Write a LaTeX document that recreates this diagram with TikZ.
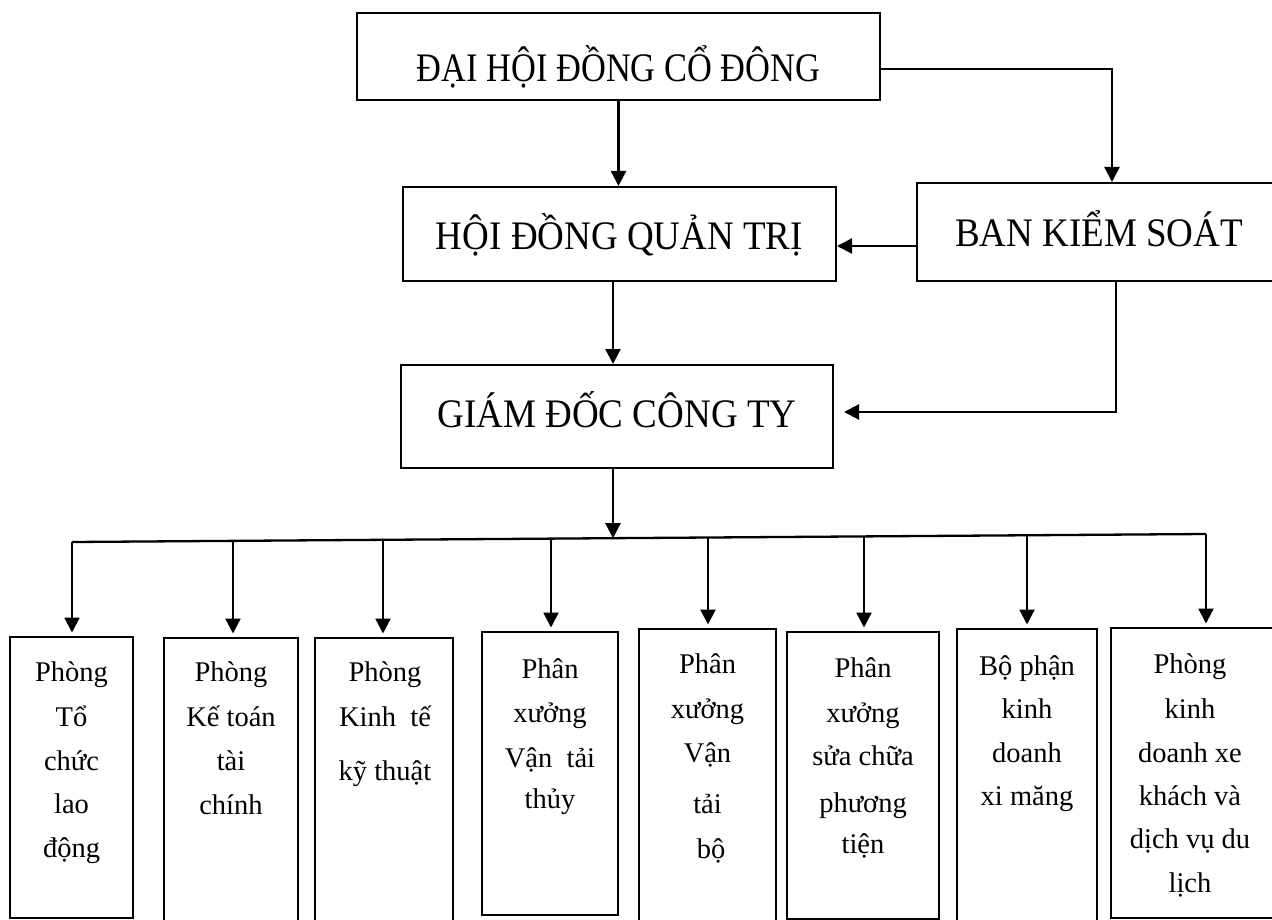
\documentclass[tikz,border=0pt]{standalone}
\usepackage{fontspec}
\setmainfont{Liberation Serif}
\usetikzlibrary{arrows.meta,calc}
% narrow setting used for the titles of the governing bodies
\newcommand{\hdtxt}[2][0.914]{\scalebox{#1}[1]{#2}}
\begin{document}
\begin{tikzpicture}[x=1pt,y=-1pt,
  headbox/.style={draw, line width=2pt, inner sep=0pt, text depth=0pt,
    font=\fontsize{40.5}{48}\selectfont},
  unitbox/.style={draw, line width=2pt, inner sep=0pt},
  cell/.style={anchor=base, inner sep=0pt, font=\fontsize{28.5}{34}\selectfont},
  link/.style={line width=2.3pt, -{Triangle[length=15pt,width=15pt]}},
  busline/.style={line width=2.3pt, line join=miter}]
\useasboundingbox (0,0) rectangle (1272,920);

% top levels
\node[headbox, minimum width=523, minimum height=87, text height=51pt] (dhcd) at (618.5,56.5)
  {\hdtxt[0.85]{ĐẠI HỘI ĐỒNG CỔ ĐÔNG}};
\node[headbox, minimum width=433, minimum height=94, text height=32pt] (hdqt) at (619.5,234)
  {\hdtxt{HỘI ĐỒNG QUẢN TRỊ}};
\node[headbox, minimum width=364, minimum height=98, text height=30pt] (bks) at (1099,232)
  {\hdtxt{BAN KIỂM SOÁT}};
\node[headbox, minimum width=432, minimum height=103, text height=21pt] (gd) at (617,416.5)
  {\hdtxt{GIÁM ĐỐC CÔNG TY}};

% departments
\node[unitbox, minimum width=123, minimum height=281] (b1) at (71.5,777.5) {};
\node[unitbox, minimum width=134, minimum height=284] (b2) at (231,780) {};
\node[unitbox, minimum width=138, minimum height=284] (b3) at (384,780) {};
\node[unitbox, minimum width=136, minimum height=283] (b4) at (550,773.5) {};
\node[unitbox, minimum width=137, minimum height=293] (b5) at (707.5,775.5) {};
\node[unitbox, minimum width=152, minimum height=287] (b6) at (863,775.5) {};
\node[unitbox, minimum width=140, minimum height=293] (b7) at (1027,775.5) {};
\node[unitbox, minimum width=164, minimum height=290] (b8) at (1193,773) {};

\foreach \t/\y [count=\i] in {Phòng/681, Tổ/726, chức/770, lao/813, động/857}
  \node[cell] (t1-\i) at (71.5,\y) {\t};
\foreach \t/\y [count=\i] in {Phòng/681, Kế toán/726, tài/770, chính/814}
  \node[cell] (t2-\i) at (231,\y) {\t};
\foreach \t/\y [count=\i] in {Phòng/681, Kinh\ \ tế/726, kỹ thuật/780}
  \node[cell] (t3-\i) at (385,\y) {\t};
\foreach \t/\y [count=\i] in {Phân/678, xưởng/722, Vận\ \ tải/767, thủy/808}
  \node[cell] (t4-\i) at (550,\y) {\t};
\foreach \t/\y [count=\i] in {Phân/673, xưởng/718, Vận/762, tải/813}
  \node[cell] (t5-\i) at (707.5,\y) {\t};
\node[cell] (t5-5) at (711,858) {bộ};
\foreach \t/\y [count=\i] in {Phân/677, xưởng/722, sửa chữa/765, phương/812, tiện/853}
  \node[cell] (t6-\i) at (863,\y) {\t};
\foreach \t/\y [count=\i] in {Bộ phận/675, kinh/718, doanh/762, xi măng/805}
  \node[cell] (t7-\i) at (1027,\y) {\t};
\foreach \t/\y [count=\i] in {Phòng/673, kinh/718, doanh xe/762, khách và/805, dịch vụ du/848, lịch/892}
  \node[cell] (t8-\i) at (1190,\y) {\t};

% connectors between the governing bodies
\draw[link] (dhcd.south) -- (dhcd.south |- hdqt.north);
\draw[link] ($(dhcd.east)+(0,12.5)$) -| ($(bks.north)+(13,0)$);
\draw[link] ($(bks.west)+(0,14)$) -- ($(hdqt.east)+(0,12)$);
\draw[link] ($(hdqt.south)+(-6.5,0)$) -- ($(gd.north)+(-4,0)$);
\draw[link] ($(bks.south)+(17,0)$) |- ($(gd.east)+(10,-4.5)$);

% distribution bus to the departments
\coordinate (busL) at (72,542);
\coordinate (busR) at (1206,534);
\coordinate (hub) at ($(busL)!{(613-72)/1134}!(busR)$);
\draw[link] (hub |- gd.south) -- (hub);
\draw[busline] (busL) -- (busR);
\foreach \x/\b in {72/b1, 233/b2, 383/b3, 551/b4, 708/b5, 864/b6, 1027/b7, 1206/b8} {
  \coordinate (d\b) at ($(busL)!{(\x-72)/1134}!(busR)$);
  \draw[link, shorten >=3.5pt] (d\b) -- (d\b |- \b.north);
}
\end{tikzpicture}
\end{document}
